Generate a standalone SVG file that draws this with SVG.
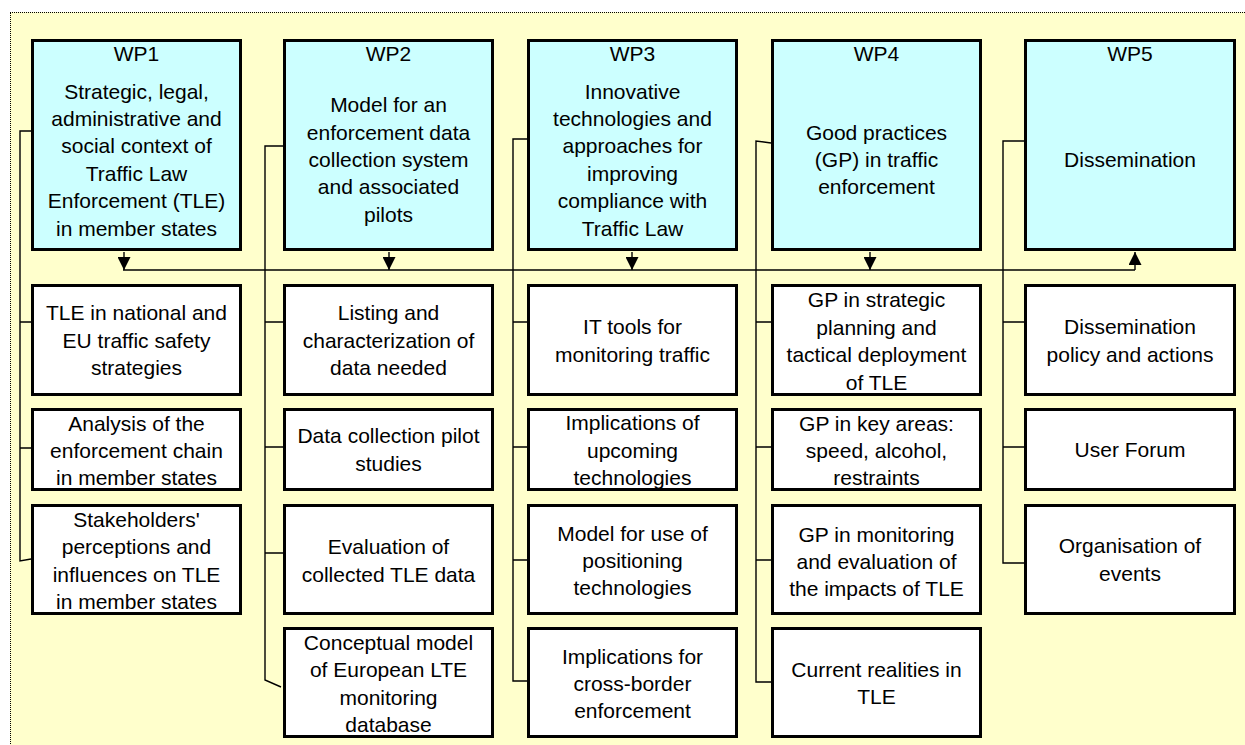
<svg xmlns="http://www.w3.org/2000/svg" width="1245" height="745" viewBox="0 0 1245 745">
<style>
.bg{fill:#FFFFCC;stroke:#000;stroke-width:1;stroke-dasharray:1,1;shape-rendering:crispEdges}
.hdr{fill:#CCFFFF;stroke:#000;stroke-width:3}
.box{fill:#FFFFFF;stroke:#000;stroke-width:3}
text{font-family:"Liberation Sans",Arial,sans-serif;font-size:21px;fill:#000;text-anchor:middle}
.c{fill:none;stroke:#000;stroke-width:1.4}
</style>
<defs>
<marker id="arr" markerUnits="userSpaceOnUse" markerWidth="13" markerHeight="13" viewBox="0 0 13 13" refX="13" refY="6.5" orient="auto"><path d="M0,0 L13,6.5 L0,13 z" fill="#000"/></marker>
</defs>
<rect width="1245" height="745" fill="#FFFFFF"/>
<rect class="bg" x="10" y="12" width="1240" height="740"/>

<g id="connectors">
<path class="c" d="M123,270 H1135"/>
<path class="c" d="M124,252 V270" marker-end="url(#arr)"/>
<path class="c" d="M389,252 V270" marker-end="url(#arr)"/>
<path class="c" d="M632,252 V270" marker-end="url(#arr)"/>
<path class="c" d="M870,252 V270" marker-end="url(#arr)"/>
<path class="c" d="M1135,270 V252" marker-end="url(#arr)"/>
<path class="c" d="M31,131 H20 V561 L31,559 M20,322 H31 M20,448 H31"/>
<path class="c" d="M283,146 H265 V680 L281,687 M265,322 H283 M265,447 H283 M265,553 H283"/>
<path class="c" d="M527,139 H513 V681 H527 M513,322 H527 M513,447 H527 M513,560 H527"/>
<path class="c" d="M771,143 L756,141 V682 H771 M756,322 H771 M756,447 H771 M756,560 H771"/>
<path class="c" d="M1024,141 H1003 V563 H1024 M1003,322 H1024 M1003,447 H1024"/>
</g>

<g id="wp1">
<rect class="hdr" x="32.5" y="40.5" width="208" height="209"/>
<text x="136.5" y="61">WP1</text>
<text x="136.5"><tspan x="136.5" y="98.5">Strategic, legal,</tspan><tspan x="136.5" y="125.9">administrative and</tspan><tspan x="136.5" y="153.3">social context of</tspan><tspan x="136.5" y="180.7">Traffic Law</tspan><tspan x="136.5" y="208.1">Enforcement (TLE)</tspan><tspan x="136.5" y="235.5">in member states</tspan></text>
</g>
<g id="wp2">
<rect class="hdr" x="284.5" y="40.5" width="208" height="209"/>
<text x="388.5" y="61">WP2</text>
<text x="388.5"><tspan x="388.5" y="112.2">Model for an</tspan><tspan x="388.5" y="139.6">enforcement data</tspan><tspan x="388.5" y="167">collection system</tspan><tspan x="388.5" y="194.4">and associated</tspan><tspan x="388.5" y="221.8">pilots</tspan></text>
</g>
<g id="wp3">
<rect class="hdr" x="528.5" y="40.5" width="208" height="209"/>
<text x="632.5" y="61">WP3</text>
<text x="632.5"><tspan x="632.5" y="98.5">Innovative</tspan><tspan x="632.5" y="125.9">technologies and</tspan><tspan x="632.5" y="153.3">approaches for</tspan><tspan x="632.5" y="180.7">improving</tspan><tspan x="632.5" y="208.1">compliance with</tspan><tspan x="632.5" y="235.5">Traffic Law</tspan></text>
</g>
<g id="wp4">
<rect class="hdr" x="772.5" y="40.5" width="208" height="209"/>
<text x="876.5" y="61">WP4</text>
<text x="876.5"><tspan x="876.5" y="139.6">Good practices</tspan><tspan x="876.5" y="167">(GP) in traffic</tspan><tspan x="876.5" y="194.4">enforcement</tspan></text>
</g>
<g id="wp5">
<rect class="hdr" x="1025.5" y="40.5" width="209" height="209"/>
<text x="1130" y="61">WP5</text>
<text x="1130" y="167">Dissemination</text>
</g>

<g id="wp1-1">
<rect class="box" x="32.5" y="285.5" width="208" height="109"/>
<text x="136.5"><tspan x="136.5" y="320.1">TLE in national and</tspan><tspan x="136.5" y="347.5">EU traffic safety</tspan><tspan x="136.5" y="374.9">strategies</tspan></text>
</g>
<g id="wp1-2">
<rect class="box" x="32.5" y="409.5" width="208" height="80"/>
<text x="136.5"><tspan x="136.5" y="430.6">Analysis of the</tspan><tspan x="136.5" y="458">enforcement chain</tspan><tspan x="136.5" y="485.4">in member states</tspan></text>
</g>
<g id="wp1-3">
<rect class="box" x="32.5" y="505.5" width="208" height="108"/>
<text x="136.5"><tspan x="136.5" y="526.9">Stakeholders'</tspan><tspan x="136.5" y="554.3">perceptions and</tspan><tspan x="136.5" y="581.7">influences on TLE</tspan><tspan x="136.5" y="609.1">in member states</tspan></text>
</g>

<g id="wp2-1">
<rect class="box" x="284.5" y="285.5" width="208" height="109"/>
<text x="388.5"><tspan x="388.5" y="320.1">Listing and</tspan><tspan x="388.5" y="347.5">characterization of</tspan><tspan x="388.5" y="374.9">data needed</tspan></text>
</g>
<g id="wp2-2">
<rect class="box" x="284.5" y="409.5" width="208" height="80"/>
<text x="388.5"><tspan x="388.5" y="443.3">Data collection pilot</tspan><tspan x="388.5" y="470.7">studies</tspan></text>
</g>
<g id="wp2-3">
<rect class="box" x="284.5" y="505.5" width="208" height="108"/>
<text x="388.5"><tspan x="388.5" y="554.3">Evaluation of</tspan><tspan x="388.5" y="581.7">collected TLE data</tspan></text>
</g>
<g id="wp2-4">
<rect class="box" x="284.5" y="628.5" width="208" height="108"/>
<text x="388.5"><tspan x="388.5" y="649.9">Conceptual model</tspan><tspan x="388.5" y="677.3">of European LTE</tspan><tspan x="388.5" y="704.7">monitoring</tspan><tspan x="388.5" y="732.1">database</tspan></text>
</g>

<g id="wp3-1">
<rect class="box" x="528.5" y="285.5" width="208" height="109"/>
<text x="632.5"><tspan x="632.5" y="334.3">IT tools for</tspan><tspan x="632.5" y="361.7">monitoring traffic</tspan></text>
</g>
<g id="wp3-2">
<rect class="box" x="528.5" y="409.5" width="208" height="80"/>
<text x="632.5"><tspan x="632.5" y="430.1">Implications of</tspan><tspan x="632.5" y="457.5">upcoming</tspan><tspan x="632.5" y="484.9">technologies</tspan></text>
</g>
<g id="wp3-3">
<rect class="box" x="528.5" y="505.5" width="208" height="108"/>
<text x="632.5"><tspan x="632.5" y="540.6">Model for use of</tspan><tspan x="632.5" y="568">positioning</tspan><tspan x="632.5" y="595.4">technologies</tspan></text>
</g>
<g id="wp3-4">
<rect class="box" x="528.5" y="628.5" width="208" height="108"/>
<text x="632.5"><tspan x="632.5" y="663.6">Implications for</tspan><tspan x="632.5" y="691">cross-border</tspan><tspan x="632.5" y="718.4">enforcement</tspan></text>
</g>

<g id="wp4-1">
<rect class="box" x="772.5" y="285.5" width="208" height="109"/>
<text x="876.5"><tspan x="876.5" y="307.4">GP in strategic</tspan><tspan x="876.5" y="334.8">planning and</tspan><tspan x="876.5" y="362.2">tactical deployment</tspan><tspan x="876.5" y="389.6">of TLE</tspan></text>
</g>
<g id="wp4-2">
<rect class="box" x="772.5" y="409.5" width="208" height="80"/>
<text x="876.5"><tspan x="876.5" y="430.6">GP in key areas:</tspan><tspan x="876.5" y="458">speed, alcohol,</tspan><tspan x="876.5" y="485.4">restraints</tspan></text>
</g>
<g id="wp4-3">
<rect class="box" x="772.5" y="505.5" width="208" height="108"/>
<text x="876.5"><tspan x="876.5" y="541.6">GP in monitoring</tspan><tspan x="876.5" y="569">and evaluation of</tspan><tspan x="876.5" y="596.4">the impacts of TLE</tspan></text>
</g>
<g id="wp4-4">
<rect class="box" x="772.5" y="628.5" width="208" height="108"/>
<text x="876.5"><tspan x="876.5" y="676.8">Current realities in</tspan><tspan x="876.5" y="704.2">TLE</tspan></text>
</g>

<g id="wp5-1">
<rect class="box" x="1025.5" y="285.5" width="209" height="109"/>
<text x="1130"><tspan x="1130" y="334.3">Dissemination</tspan><tspan x="1130" y="361.7">policy and actions</tspan></text>
</g>
<g id="wp5-2">
<rect class="box" x="1025.5" y="409.5" width="209" height="80"/>
<text x="1130" y="457">User Forum</text>
</g>
<g id="wp5-3">
<rect class="box" x="1025.5" y="505.5" width="209" height="108"/>
<text x="1130"><tspan x="1130" y="553.3">Organisation of</tspan><tspan x="1130" y="580.7">events</tspan></text>
</g>
</svg>
